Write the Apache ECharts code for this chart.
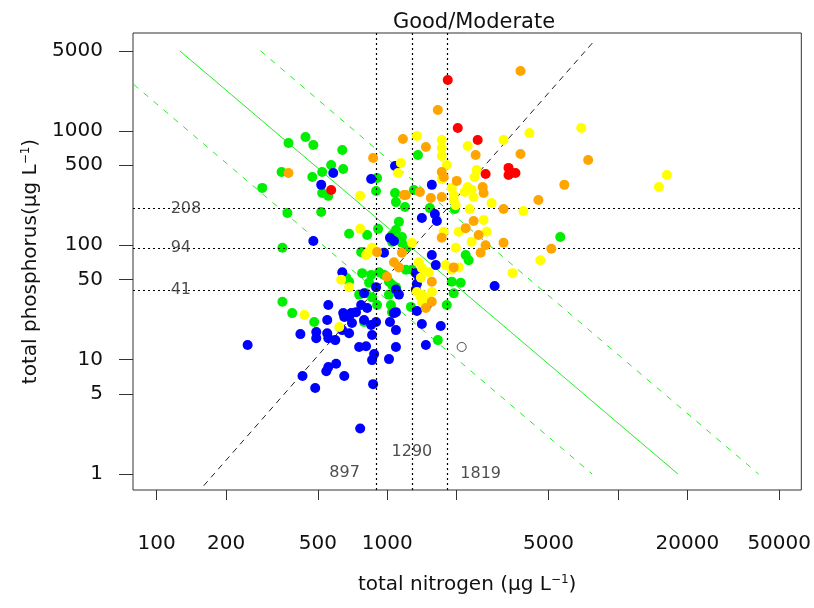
<!DOCTYPE html>
<html><head><meta charset="utf-8">
<script src="https://cdn.jsdelivr.net/npm/echarts@6/dist/echarts.min.js"></script>
<style>html,body{margin:0;padding:0;background:#fff}#c{width:814px;height:608px}</style>
</head><body><div id="c"></div>
<script>
// ---- data (total nitrogen, total phosphorus), ug/L ----
const blue = [[1080,493],[583,428],[517,337],[851,379],[1560,337],[478,109],[1027,116],[1069,109],[1412,173],[1608,187],[1640,163],[968,86],[1560,82],[1623,67],[1330,57],[1344,46],[1330,41],[1090,41],[1123,37],[2919,44],[1485,30],[1344,26.6],[1069,25.5],[1412,20.5],[1705,19.7],[1470,13.4],[638,58],[894,43],[793,38],[770,30],[818,28.3],[555,30],[732,26],[697,25.5],[644,25.5],[683,23.6],[703,20.9],[1090,26],[549,22.2],[420,16.7],[492,17.4],[492,15.4],[549,17],[555,15.4],[595,14.8],[638,18.1],[683,17],[651,23.6],[851,20.1],[1027,21.3],[793,22.2],[859,16.4],[894,21.3],[1090,18.1],[248,13.4],[755,12.9],[809,13.1],[877,11.2],[859,9.9],[1017,10.1],[1090,12.9],[555,8.6],[600,9.2],[544,7.9],[429,7.2],[651,7.2],[487,5.65],[868,6.1],[763,2.5],[1371,53]];
const green = [[373,783],[442,883],[478,752],[638,679],[1358,614],[571,503],[644,464],[522,436],[473,395],[348,436],[522,286],[555,270],[287,317],[903,387],[894,298],[1080,286],[1090,238],[1193,216],[369,191],[517,195],[683,126],[912,139],[351,95],[1090,136],[1123,160],[786,87],[1304,304],[1962,207],[1529,211],[2187,82],[2253,74],[1903,48],[2081,47],[1941,38],[1811,30],[1656,14.8],[1266,28.9],[1204,61],[818,123],[1048,123],[1048,107],[770,87],[664,52],[851,55],[921,58],[968,55],[1017,48],[1048,45],[859,35],[1017,37],[903,30],[1037,30],[1048,26],[387,25.5],[482,21.3],[793,21.3],[351,32],[778,57],[834,47],[755,37],[809,38],[683,48],[1090,43],[1101,39],[1278,61],[5623,118],[1157,118],[1157,105],[1216,96]];
const yellow = [[1344,901],[1722,831],[1113,428],[1145,524],[763,270],[763,139],[826,86],[1278,105],[1722,708],[1722,602],[1811,503],[1722,379],[2232,737],[3191,831],[4132,957],[6927,1059],[2440,454],[2393,395],[2232,323],[2321,304],[2166,292],[1903,317],[1941,248],[1980,224],[2368,264],[2832,234],[2276,207],[2616,166],[16300,411],[15050,323],[3894,199],[4609,74],[2696,131],[2321,107],[3492,57],[1903,61],[2040,64],[1344,39],[1398,35],[1560,39],[1757,131],[2040,131],[1980,95],[1792,67],[1371,71],[1412,63],[1514,58],[1398,52],[1412,37],[1470,34],[809,82],[631,50],[683,43],[437,24.5],[619,19.3],[1412,32],[859,95],[1941,275]];
const orange = [[3779,3333],[1656,1520],[1169,848],[1470,722],[868,579],[373,428],[1204,275],[1385,292],[2415,614],[3779,627],[7428,556],[5855,337],[4519,248],[3191,207],[5142,93],[3191,105],[2668,100],[2539,86],[2368,163],[1722,436],[1757,395],[2000,365],[2591,323],[2616,286],[1180,275],[1545,259],[1722,264],[1470,28.3],[1560,48],[1941,64],[1722,116],[2489,123],[1560,32],[1069,71],[1123,64],[1157,86],[997,53],[903,87],[2187,141]];
const red = [[1829,2781],[2021,1059],[2465,831],[571,304],[2668,419],[3354,474],[3455,428],[3354,411],[3595,428]];
const hollow = [[2101,12.9]];

// reference lines
const tnBreaks = [897, 1290, 1819];
const tpBreaks = [41, 94, 208];
const ratioLine = [[160, 0.79], [8000, 6300]];
const greenMid = [[126, 5000], [18200, 1]];
const greenLow = [[53.6, 5000], [7730, 1]];
const greenHigh = [[282, 5000], [40700, 1]];
// labels of the break lines
const tpLabelPos = [[115, 41], [115, 94], [115, 208]];
const tnLabelPos = [[653, 1.02], [1279, 1.56], [2539, 1.0]];

// axis ticks
const xTicks = [100, 200, 500, 1000, 2000, 5000, 10000, 20000, 50000];
const xTickLabels = [100, 200, 500, 1000, 5000, 20000, 50000];
const yTicks = [1, 5, 10, 50, 100, 500, 1000, 5000];
const xRange = [78.99, 62360];
const yRange = [0.7247, 7160];

const L = v => Math.log10(v);
const tr = pts => pts.map(p => [L(p[0]), L(p[1])]);
const FONT = '"DejaVu Sans", sans-serif';

function dots(data, color, z) {
  return { type: 'scatter', data: tr(data), symbol: 'circle', symbolSize: 10, z: z,
    itemStyle: { color: color, opacity: 1 }, silent: true };
}

const chart = echarts.init(document.getElementById('c'), null, { renderer: 'canvas' });
chart.setOption({
  animation: false,
  backgroundColor: '#fff',
  title: { text: 'Good/Moderate', left: 469, top: 7, textAlign: 'center',
    textStyle: { fontFamily: FONT, fontSize: 21, fontWeight: 'normal', color: '#111' } },
  grid: { left: 133, right: 10, top: 33, bottom: 118, show: true, borderColor: '#333', borderWidth: 1, containLabel: false },
  xAxis: {
    type: 'value', min: L(xRange[0]), max: L(xRange[1]),
    splitLine: { show: false }, axisLine: { show: false, onZero: false },
    axisTick: { show: true, length: 10, customValues: xTicks.map(L), lineStyle: { color: '#333' } },
    axisLabel: { customValues: xTickLabels.map(L), formatter: v => String(Math.round(Math.pow(10, v))),
      margin: 44, fontSize: 20, fontFamily: FONT, color: '#111' },
    name: 'total nitrogen (\u03bcg L{sup|\u22121})', nameLocation: 'middle', nameGap: 84,
    nameTextStyle: { fontFamily: FONT, fontSize: 20, color: '#111',
      rich: { sup: { fontSize: 12, verticalAlign: 'top', padding: [0, 0, 10, 0], fontFamily: FONT, color: '#111' } } }
  },
  yAxis: {
    type: 'value', min: L(yRange[0]), max: L(yRange[1]),
    splitLine: { show: false }, axisLine: { show: false, onZero: false },
    axisTick: { show: true, length: 14, customValues: yTicks.map(L), lineStyle: { color: '#333' } },
    axisLabel: { customValues: yTicks.map(L), formatter: v => String(Math.round(Math.pow(10, v))),
      margin: 30, fontSize: 20, fontFamily: FONT, color: '#111' },
    name: 'total phosphorus(\u03bcg L{sup|\u22121})', nameLocation: 'middle', nameGap: 88,
    nameTextStyle: { fontFamily: FONT, fontSize: 20, color: '#111',
      rich: { sup: { fontSize: 12, verticalAlign: 'top', padding: [0, 0, 10, 0], fontFamily: FONT, color: '#111' } } }
  },
  series: [
    { type: 'line', data: tr(greenMid), symbol: 'none', clip: true, z: 1, silent: true,
      lineStyle: { color: '#22ee22', width: 1 },
      markLine: { symbol: 'none', silent: true, animation: false, label: { show: false },
        lineStyle: { color: '#000', width: 1.2, type: [2, 3] },
        data: tnBreaks.map(v => ({ xAxis: L(v) })).concat(tpBreaks.map(v => ({ yAxis: L(v) }))) } },
    { type: 'line', data: tr(greenLow), symbol: 'none', clip: true, z: 1, silent: true,
      lineStyle: { color: '#22ee22', width: 1, type: [6, 7] } },
    { type: 'line', data: tr(greenHigh), symbol: 'none', clip: true, z: 1, silent: true,
      lineStyle: { color: '#22ee22', width: 1, type: [6, 7] } },
    { type: 'line', data: tr(ratioLine), symbol: 'none', clip: true, z: 1, silent: true,
      lineStyle: { color: '#222', width: 1, type: [6, 5] } },
    dots(green, '#00ee00', 3),
    dots(blue, '#0000ff', 4),
    dots(yellow, '#ffff00', 5),
    dots(orange, '#ffa500', 6),
    dots(red, '#ff0000', 7),
    { type: 'scatter', data: tr(hollow), symbol: 'circle', symbolSize: 9, z: 8, silent: true,
      itemStyle: { color: 'rgba(0,0,0,0)', borderColor: '#222', borderWidth: 1 } },
    { type: 'scatter', data: tr(tpLabelPos).map((p, i) => ({ value: p, name: String(tpBreaks[i]) })),
      symbolSize: 0, z: 9, silent: true,
      label: { show: true, position: 'right', distance: 0, formatter: p => p.name,
        fontFamily: FONT, fontSize: 16, color: '#222' } },
    { type: 'scatter', data: tr(tnLabelPos).map((p, i) => ({ value: p, name: String(tnBreaks[i]) })),
      symbolSize: 0, z: 9, silent: true,
      label: { show: true, position: 'inside', formatter: p => p.name,
        fontFamily: FONT, fontSize: 16, color: '#222' } }
  ]
});
</script>
</body></html>
